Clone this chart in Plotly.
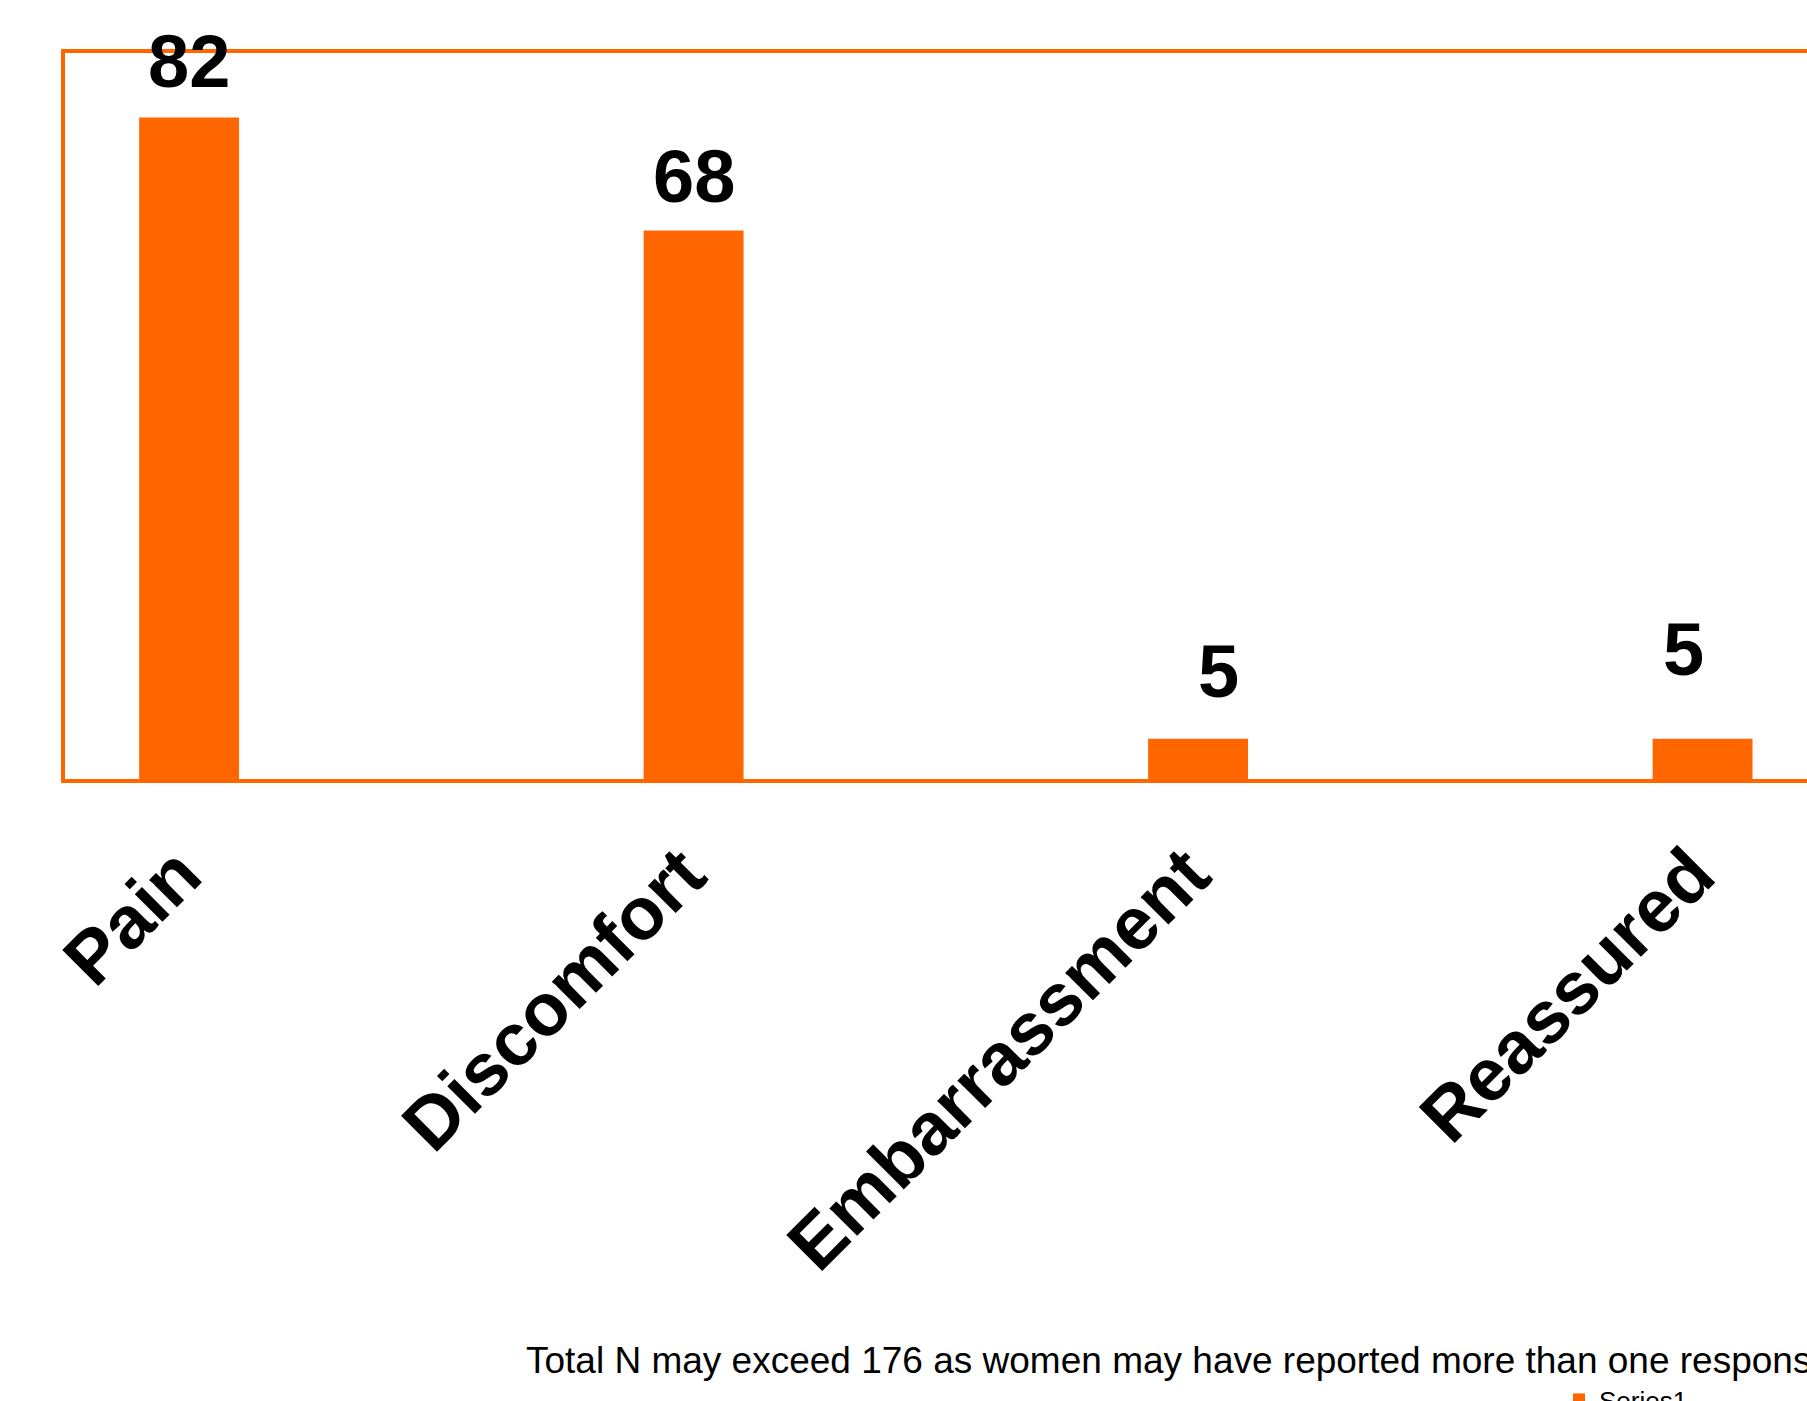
import plotly.graph_objects as go

categories = ["Pain", "Discomfort", "Embarrassment", "Reassured"]
values = [82, 68, 5, 5]
series_name = "Series1"
note = "Total N may exceed 176 as women may have reported more than one response"

# label placement offsets (pixels) relative to bar tops
label_dx = [0, 0, 20, -19]
label_dy = [56, 54, 67, 89]

ORANGE = "#FF6600"
FONT = "Liberation Sans"

fig = go.Figure()
fig.add_trace(go.Bar(
    x=list(range(len(categories))),
    y=values,
    name=series_name,
    marker=dict(color=ORANGE, line=dict(width=0)),
    showlegend=True,
))

for i, (c, v) in enumerate(zip(categories, values)):
    fig.add_annotation(
        x=i, y=v, xref="x", yref="y",
        text=str(v), showarrow=False,
        xanchor="center", yanchor="middle",
        xshift=label_dx[i], yshift=label_dy[i],
        font=dict(family=FONT, size=74, color="black", weight="bold"),
    )

fig.add_annotation(
    x=(524 - 65) / 1742, y=(779 - 1360) / 726, xref="paper", yref="paper",
    text=note, showarrow=False, xanchor="left", yanchor="middle",
    font=dict(family=FONT, size=37, color="black"),
)

fig.update_layout(
    width=1807, height=1401,
    margin=dict(l=65, r=0, t=53, b=622, autoexpand=False),
    paper_bgcolor="white", plot_bgcolor="white",
    bargap=0.802,
    showlegend=True,
    legend=dict(
        x=(1559 - 65) / 1742, y=(779 - 1376) / 726,
        xanchor="left", yanchor="top",
        font=dict(family=FONT, size=26, color="black"),
        bgcolor="rgba(0,0,0,0)", borderwidth=0,
    ),
    xaxis=dict(
        tickmode="array",
        tickvals=list(range(len(categories))),
        ticktext=categories,
        range=[-0.246, 3.207],
        tickangle=-45,
        tickfont=dict(family=FONT, size=74, color="black", weight="bold"),
        ticklabelstandoff=18,
        ticklabelshift=-10,
        showline=True, linecolor=ORANGE, linewidth=4, mirror=True,
        showgrid=False, zeroline=False, ticks="",
    ),
    yaxis=dict(
        range=[0, 90],
        showticklabels=False,
        showline=True, linecolor=ORANGE, linewidth=4, mirror=False,
        showgrid=False, zeroline=False, ticks="",
    ),
)

fig.write_html("out.html")
